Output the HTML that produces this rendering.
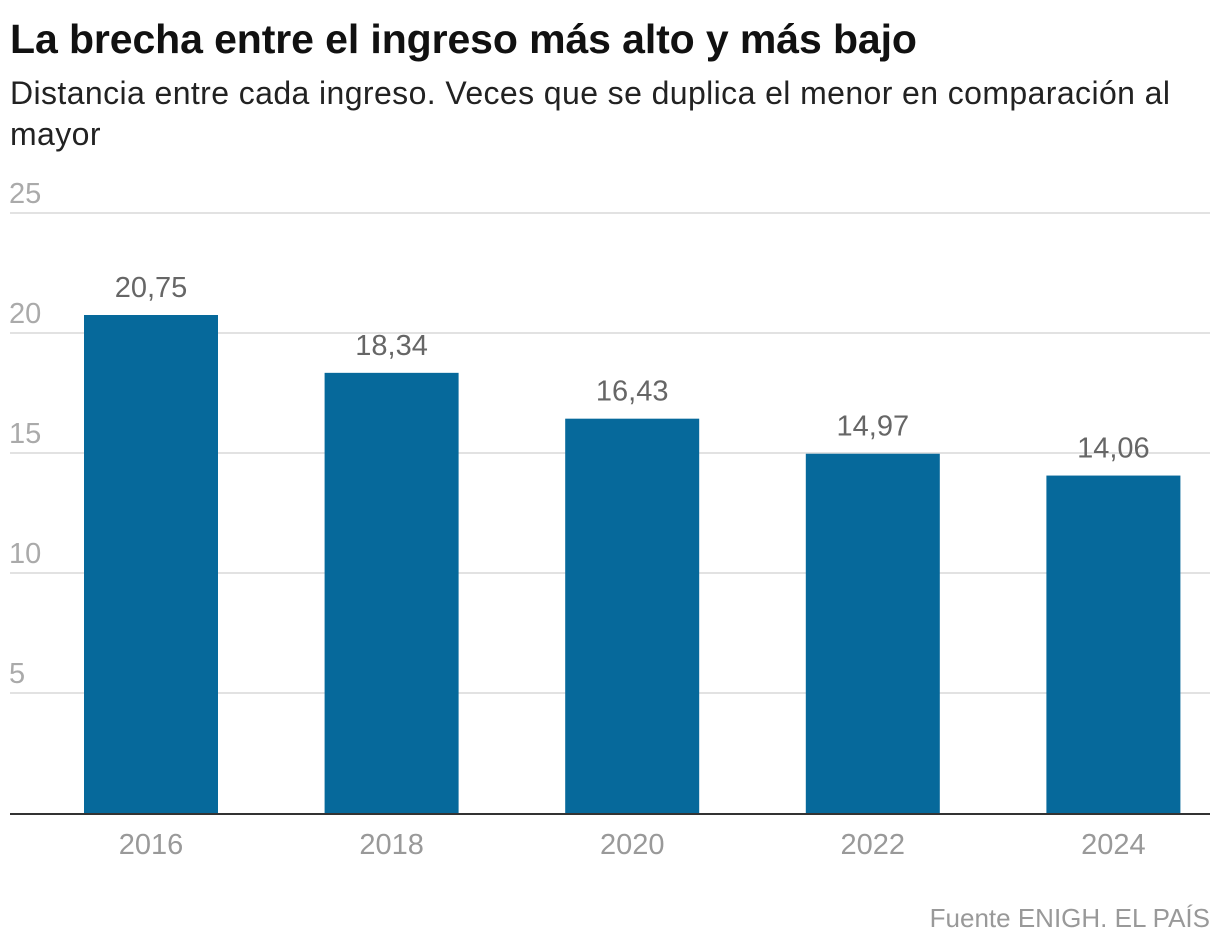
<!DOCTYPE html>
<html><head><meta charset="utf-8"><style>
body{margin:0;background:#fff;width:1220px;height:950px;overflow:hidden;font-family:"Liberation Sans",sans-serif}
#title{position:absolute;left:10px;top:16px;font-size:41px;font-weight:bold;color:#111;letter-spacing:-0.1px;margin:0;white-space:nowrap}
#sub{position:absolute;left:10px;top:73px;width:1190px;font-size:32px;line-height:41px;color:#222;margin:0;letter-spacing:0.4px}
#src{position:absolute;right:10px;top:903px;font-size:26px;color:#999}
svg{position:absolute;left:0;top:0}
</style></head><body>
<h1 id="title">La brecha entre el ingreso más alto y más bajo</h1>
<p id="sub">Distancia entre cada ingreso. Veces que se duplica el menor en comparación al mayor</p>
<div id="src">Fuente ENIGH. EL PAÍS</div>
<svg id="chart" width="1220" height="950"></svg>
<script>
const categories=["2016","2018","2020","2022","2024"];
const values=[20.75,18.34,16.43,14.97,14.06];
const valueLabels=["20,75","18,34","16,43","14,97","14,06"];
const yTicks=[5,10,15,20,25];
const svg=document.getElementById('chart');
const NS='http://www.w3.org/2000/svg';
const y0=813,pxPerUnit=24;
function y(v){return y0-v*pxPerUnit;}
function xc(i){return 151+i*240.6;}
function mk(tag,attrs,text){const e=document.createElementNS(NS,tag);for(const k in attrs)e.setAttribute(k,attrs[k]);if(text!==undefined)e.textContent=text;svg.appendChild(e);return e;}
yTicks.forEach(t=>{
  const g=mk('line',{x1:10,x2:1210,y1:y(t),y2:y(t),stroke:'#e2e2e2','stroke-width':2});
  
  
  const l=mk('text',{x:9,y:y(t)-10,'font-size':29,fill:'#aaa'},String(t));
  
  
});
categories.forEach((c,i)=>{
  const b=mk('rect',{x:xc(i)-67,y:y(values[i]),width:134,height:values[i]*pxPerUnit,fill:'#06699b'});
  
  
  const v=mk('text',{x:xc(i),y:y(values[i])-18,'font-size':29,fill:'#666','text-anchor':'middle'},valueLabels[i]);
  
  
  const xl=mk('text',{x:xc(i),y:854,'font-size':29,fill:'#999','text-anchor':'middle'},c);
  
  
});
const ax=mk('line',{x1:10,x2:1210,y1:y0+1,y2:y0+1,stroke:'#333','stroke-width':2});


</script>
</body></html>
